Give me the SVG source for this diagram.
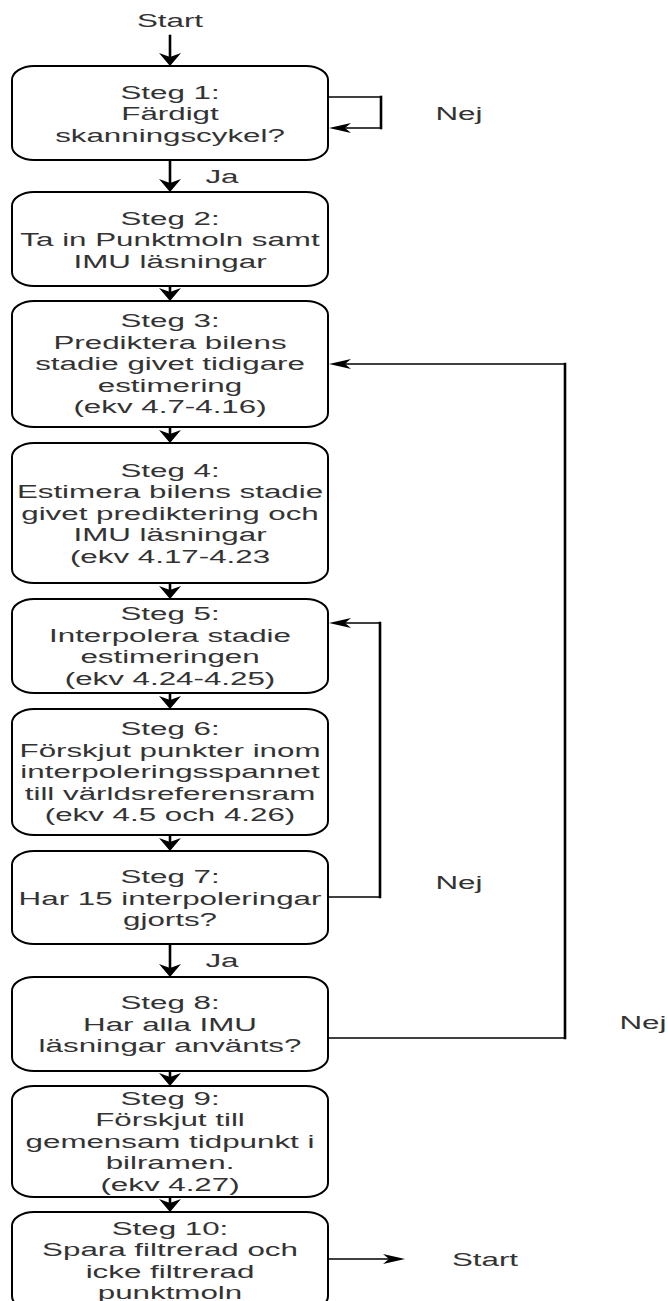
<svg xmlns="http://www.w3.org/2000/svg" xmlns:xlink="http://www.w3.org/1999/xlink" width="668" height="1301" viewBox="0 0 668 1301">
<style>
  .box { fill: #ffffff; stroke: #000000; stroke-width: 2; }
  .t { font-family: "Liberation Sans", Arial, sans-serif; font-size: 18px; fill: #333333; text-anchor: middle; }
  .h { stroke: #000000; stroke-width: 1.6; fill: none; stroke-linecap: square; }
  .v { stroke: #000000; stroke-width: 2.6; fill: none; stroke-linecap: square; }
  .ah { fill: #000000; stroke: none; }
</style>
<defs>
  <path id="ahDown" class="ah" d="M-11,-13 L0,0 L11,-13 L0,-9 Z"/>
  <path id="ahLeft" class="ah" d="M22,-5 L0,0 L22,5 L16,0 Z"/>
  <path id="ahRight" class="ah" d="M-22,-5 L0,0 L-22,5 L-16,0 Z"/>
</defs>

<g id="connectors">
  <!-- Start -> Steg 1 -->
  <line class="v" x1="170" y1="36" x2="170" y2="57"/>
  <use xlink:href="#ahDown" x="170" y="66"/>
  <!-- Steg 1 -> Steg 2 (Ja) -->
  <line class="v" x1="170" y1="161" x2="170" y2="183"/>
  <use xlink:href="#ahDown" x="170" y="192"/>
  <!-- Steg 1 self loop (Nej) -->
  <line class="h" x1="329" y1="97" x2="381" y2="97"/>
  <line class="v" x1="381" y1="97" x2="381" y2="128"/>
  <line class="h" x1="381" y1="128" x2="344" y2="128"/>
  <use xlink:href="#ahLeft" x="329" y="128"/>
  <!-- Steg 2 -> Steg 3 -->
  <line class="v" x1="170" y1="287" x2="170" y2="292"/>
  <use xlink:href="#ahDown" x="170" y="301"/>
  <!-- Steg 3 -> Steg 4 -->
  <line class="v" x1="170" y1="428" x2="170" y2="434"/>
  <use xlink:href="#ahDown" x="170" y="443"/>
  <!-- Steg 4 -> Steg 5 -->
  <line class="v" x1="170" y1="584" x2="170" y2="590"/>
  <use xlink:href="#ahDown" x="170" y="599"/>
  <!-- Steg 5 -> Steg 6 -->
  <line class="v" x1="170" y1="694" x2="170" y2="700"/>
  <use xlink:href="#ahDown" x="170" y="709"/>
  <!-- Steg 6 -> Steg 7 -->
  <line class="v" x1="170" y1="836" x2="170" y2="842"/>
  <use xlink:href="#ahDown" x="170" y="851"/>
  <!-- Steg 7 -> Steg 5 loop (Nej) -->
  <line class="h" x1="329" y1="897" x2="380" y2="897"/>
  <line class="v" x1="380" y1="897" x2="380" y2="623"/>
  <line class="h" x1="380" y1="623" x2="344" y2="623"/>
  <use xlink:href="#ahLeft" x="329" y="623"/>
  <!-- Steg 7 -> Steg 8 (Ja) -->
  <line class="v" x1="170" y1="945" x2="170" y2="968"/>
  <use xlink:href="#ahDown" x="170" y="977"/>
  <!-- Steg 8 -> Steg 3 loop (Nej) -->
  <line class="h" x1="329" y1="1038" x2="565" y2="1038"/>
  <line class="v" x1="565" y1="1038" x2="565" y2="364"/>
  <line class="h" x1="565" y1="364" x2="344" y2="364"/>
  <use xlink:href="#ahLeft" x="329" y="364"/>
  <!-- Steg 8 -> Steg 9 -->
  <line class="v" x1="170" y1="1072" x2="170" y2="1077"/>
  <use xlink:href="#ahDown" x="170" y="1086"/>
  <!-- Steg 9 -> Steg 10 -->
  <line class="v" x1="170" y1="1198" x2="170" y2="1203"/>
  <use xlink:href="#ahDown" x="170" y="1212"/>
  <!-- Steg 10 -> Start -->
  <line class="h" x1="329" y1="1259" x2="389" y2="1259"/>
  <use xlink:href="#ahRight" x="405" y="1259"/>

  <text class="t" transform="translate(459,120) scale(1.74,1)">Nej</text>
  <text class="t" transform="translate(222,183) scale(1.74,1)">Ja</text>
  <text class="t" transform="translate(459,889) scale(1.74,1)">Nej</text>
  <text class="t" transform="translate(222,967) scale(1.74,1)">Ja</text>
  <text class="t" transform="translate(643,1029) scale(1.74,1)">Nej</text>
</g>

<g id="start-top">
  <text class="t" transform="translate(170,27) scale(1.74,1)">Start</text>
</g>

<g id="steg1">
  <rect class="box" x="12" y="66" width="316" height="94" rx="22" ry="14"/>
  <text class="t" transform="translate(170,98.5) scale(1.74,1)">Steg 1:</text>
  <text class="t" transform="translate(170,120) scale(1.74,1)">Färdigt</text>
  <text class="t" transform="translate(170,141.5) scale(1.74,1)">skanningscykel?</text>
</g>

<g id="steg2">
  <rect class="box" x="12" y="192" width="316" height="94" rx="22" ry="14"/>
  <text class="t" transform="translate(170,224.5) scale(1.74,1)">Steg 2:</text>
  <text class="t" transform="translate(170,246) scale(1.74,1)">Ta in Punktmoln samt</text>
  <text class="t" transform="translate(170,267.5) scale(1.74,1)">IMU läsningar</text>
</g>

<g id="steg3">
  <rect class="box" x="12" y="301" width="316" height="126" rx="22" ry="14"/>
  <text class="t" transform="translate(170,327) scale(1.74,1)">Steg 3:</text>
  <text class="t" transform="translate(170,348.6) scale(1.74,1)">Prediktera bilens</text>
  <text class="t" transform="translate(170,370.2) scale(1.74,1)">stadie givet tidigare</text>
  <text class="t" transform="translate(170,391.8) scale(1.74,1)">estimering</text>
  <text class="t" transform="translate(170,413.4) scale(1.74,1)">(ekv 4.7-4.16)</text>
</g>

<g id="steg4">
  <rect class="box" x="12" y="443" width="316" height="140" rx="22" ry="14"/>
  <text class="t" transform="translate(170,476.5) scale(1.74,1)">Steg 4:</text>
  <text class="t" transform="translate(170,498.1) scale(1.74,1)">Estimera bilens stadie</text>
  <text class="t" transform="translate(170,519.7) scale(1.74,1)">givet prediktering och</text>
  <text class="t" transform="translate(170,541.3) scale(1.74,1)">IMU läsningar</text>
  <text class="t" transform="translate(170,562.9) scale(1.74,1)">(ekv 4.17-4.23</text>
</g>

<g id="steg5">
  <rect class="box" x="12" y="599" width="316" height="94" rx="22" ry="14"/>
  <text class="t" transform="translate(170,620) scale(1.74,1)">Steg 5:</text>
  <text class="t" transform="translate(170,641.6) scale(1.74,1)">Interpolera stadie</text>
  <text class="t" transform="translate(170,663.2) scale(1.74,1)">estimeringen</text>
  <text class="t" transform="translate(170,684.8) scale(1.74,1)">(ekv 4.24-4.25)</text>
</g>

<g id="steg6">
  <rect class="box" x="12" y="709" width="316" height="126" rx="22" ry="14"/>
  <text class="t" transform="translate(170,735) scale(1.74,1)">Steg 6:</text>
  <text class="t" transform="translate(170,756.6) scale(1.74,1)">Förskjut punkter inom</text>
  <text class="t" transform="translate(170,778.2) scale(1.74,1)">interpoleringsspannet</text>
  <text class="t" transform="translate(170,799.8) scale(1.74,1)">till världsreferensram</text>
  <text class="t" transform="translate(170,821.4) scale(1.74,1)">(ekv 4.5 och 4.26)</text>
</g>

<g id="steg7">
  <rect class="box" x="12" y="851" width="316" height="93" rx="22" ry="14"/>
  <text class="t" transform="translate(170,883) scale(1.74,1)">Steg 7:</text>
  <text class="t" transform="translate(170,904.6) scale(1.74,1)">Har 15 interpoleringar</text>
  <text class="t" transform="translate(170,926.2) scale(1.74,1)">gjorts?</text>
</g>

<g id="steg8">
  <rect class="box" x="12" y="977" width="316" height="94" rx="22" ry="14"/>
  <text class="t" transform="translate(170,1009) scale(1.74,1)">Steg 8:</text>
  <text class="t" transform="translate(170,1030.6) scale(1.74,1)">Har alla IMU</text>
  <text class="t" transform="translate(170,1052.2) scale(1.74,1)">läsningar använts?</text>
</g>

<g id="steg9">
  <rect class="box" x="12" y="1086" width="316" height="111" rx="22" ry="14"/>
  <text class="t" transform="translate(170,1104.5) scale(1.74,1)">Steg 9:</text>
  <text class="t" transform="translate(170,1126.1) scale(1.74,1)">Förskjut till</text>
  <text class="t" transform="translate(170,1147.7) scale(1.74,1)">gemensam tidpunkt i</text>
  <text class="t" transform="translate(170,1169.3) scale(1.74,1)">bilramen.</text>
  <text class="t" transform="translate(170,1190.9) scale(1.74,1)">(ekv 4.27)</text>
</g>

<g id="steg10">
  <rect class="box" x="12" y="1212" width="316" height="98" rx="22" ry="14"/>
  <text class="t" transform="translate(170,1234.5) scale(1.74,1)">Steg 10:</text>
  <text class="t" transform="translate(170,1256.1) scale(1.74,1)">Spara filtrerad och</text>
  <text class="t" transform="translate(170,1277.7) scale(1.74,1)">icke filtrerad</text>
  <text class="t" transform="translate(170,1299.3) scale(1.74,1)">punktmoln</text>
</g>

<g id="start-end">
  <text class="t" transform="translate(485,1265.5) scale(1.74,1)">Start</text>
</g>
</svg>
